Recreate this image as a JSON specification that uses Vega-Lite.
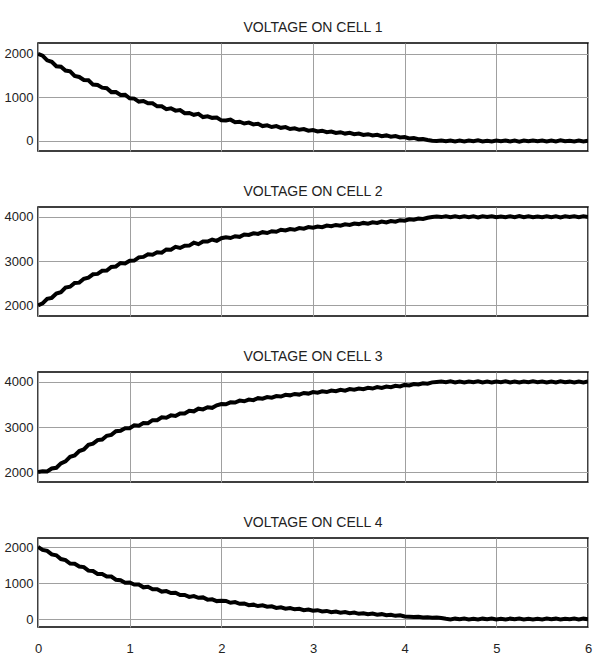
{
"$schema": "https://vega.github.io/schema/vega-lite/v6.json",
"padding": {"left": 3, "top": 20, "right": 0, "bottom": 0},
"background": "white",
"config": {
  "font": "Liberation Sans",
  "view": {"stroke": "#000", "strokeWidth": 1.5},
  "axis": {"gridColor": "#a0a0a0", "gridWidth": 1, "gridOpacity": 1, "domain": false, "ticks": false, "labelFont": "Liberation Sans", "labelFontSize": 13, "labelColor": "#222", "title": null, "format": "d"},
  "title": {"font": "Liberation Sans", "fontSize": 14, "fontWeight": "normal", "color": "#222", "offset": 8}
},
"datasets": {"v": [
{"t":0,"a":2000,"b":2000,"c":2000,"d":2000},
{"t":0.05,"a":1960,"b":2045,"c":2020,"d":1920},
{"t":0.1,"a":1852,"b":2148,"c":2015,"d":1892},
{"t":0.15,"a":1817,"b":2170,"c":2080,"d":1793},
{"t":0.2,"a":1715,"b":2267,"c":2095,"d":1770},
{"t":0.25,"a":1705,"b":2297,"c":2192,"d":1665},
{"t":0.3,"a":1617,"b":2400,"c":2238,"d":1635},
{"t":0.35,"a":1598,"b":2420,"c":2338,"d":1542},
{"t":0.4,"a":1493,"b":2505,"c":2370,"d":1533},
{"t":0.45,"a":1470,"b":2513,"c":2467,"d":1457},
{"t":0.5,"a":1400,"b":2600,"c":2502,"d":1441},
{"t":0.55,"a":1395,"b":2627,"c":2605,"d":1343},
{"t":0.6,"a":1295,"b":2702,"c":2630,"d":1332},
{"t":0.65,"a":1285,"b":2710,"c":2710,"d":1250},
{"t":0.7,"a":1225,"b":2780,"c":2723,"d":1250},
{"t":0.75,"a":1212,"b":2785,"c":2805,"d":1180},
{"t":0.8,"a":1122,"b":2868,"c":2825,"d":1178},
{"t":0.85,"a":1125,"b":2878,"c":2905,"d":1092},
{"t":0.9,"a":1058,"b":2956,"c":2917,"d":1078},
{"t":0.95,"a":1061,"b":2945,"c":2973,"d":1010},
{"t":1.0,"a":980,"b":3008,"c":2973,"d":1015},
{"t":1.05,"a":973,"b":3010,"c":3037,"d":959},
{"t":1.1,"a":905,"b":3083,"c":3027,"d":957},
{"t":1.15,"a":918,"b":3094,"c":3087,"d":880},
{"t":1.2,"a":864,"b":3154,"c":3085,"d":895},
{"t":1.25,"a":864,"b":3144,"c":3151,"d":828},
{"t":1.3,"a":796,"b":3199,"c":3150,"d":826},
{"t":1.35,"a":796,"b":3189,"c":3215,"d":761},
{"t":1.4,"a":732,"b":3262,"c":3207,"d":776},
{"t":1.45,"a":752,"b":3258,"c":3258,"d":722},
{"t":1.5,"a":697,"b":3320,"c":3243,"d":731},
{"t":1.55,"a":710,"b":3296,"c":3300,"d":665},
{"t":1.6,"a":639,"b":3346,"c":3300,"d":668},
{"t":1.65,"a":643,"b":3349,"c":3360,"d":615},
{"t":1.7,"a":601,"b":3414,"c":3348,"d":635},
{"t":1.75,"a":623,"b":3382,"c":3407,"d":589},
{"t":1.8,"a":550,"b":3439,"c":3391,"d":600},
{"t":1.85,"a":567,"b":3442,"c":3437,"d":538},
{"t":1.9,"a":531,"b":3486,"c":3425,"d":547},
{"t":1.95,"a":538,"b":3456,"c":3481,"d":497},
{"t":2.0,"a":473,"b":3516,"c":3510,"d":510},
{"t":2.05,"a":471,"b":3538,"c":3503,"d":500},
{"t":2.1,"a":490,"b":3520,"c":3547,"d":451},
{"t":2.15,"a":430,"b":3561,"c":3543,"d":469},
{"t":2.2,"a":442,"b":3547,"c":3585,"d":423},
{"t":2.25,"a":401,"b":3600,"c":3570,"d":432},
{"t":2.3,"a":422,"b":3589,"c":3607,"d":385},
{"t":2.35,"a":381,"b":3627,"c":3595,"d":399},
{"t":2.4,"a":394,"b":3613,"c":3640,"d":360},
{"t":2.45,"a":342,"b":3652,"c":3628,"d":380},
{"t":2.5,"a":360,"b":3633,"c":3663,"d":341},
{"t":2.55,"a":321,"b":3674,"c":3650,"d":352},
{"t":2.6,"a":341,"b":3662,"c":3686,"d":309},
{"t":2.65,"a":302,"b":3706,"c":3676,"d":324},
{"t":2.7,"a":318,"b":3689,"c":3714,"d":285},
{"t":2.75,"a":274,"b":3722,"c":3702,"d":304},
{"t":2.8,"a":292,"b":3706,"c":3733,"d":269},
{"t":2.85,"a":257,"b":3745,"c":3719,"d":284},
{"t":2.9,"a":274,"b":3731,"c":3755,"d":245},
{"t":2.95,"a":236,"b":3766,"c":3741,"d":261},
{"t":3.0,"a":252,"b":3752,"c":3775,"d":228},
{"t":3.05,"a":219,"b":3781,"c":3759,"d":245},
{"t":3.1,"a":236,"b":3766,"c":3790,"d":212},
{"t":3.15,"a":203,"b":3801,"c":3775,"d":225},
{"t":3.2,"a":217,"b":3785,"c":3809,"d":191},
{"t":3.25,"a":184,"b":3815,"c":3795,"d":207},
{"t":3.3,"a":202,"b":3797,"c":3823,"d":177},
{"t":3.35,"a":170,"b":3829,"c":3807,"d":195},
{"t":3.4,"a":186,"b":3815,"c":3841,"d":163},
{"t":3.45,"a":155,"b":3848,"c":3826,"d":178},
{"t":3.5,"a":170,"b":3834,"c":3854,"d":144},
{"t":3.55,"a":139,"b":3861,"c":3837,"d":161},
{"t":3.6,"a":156,"b":3844,"c":3868,"d":132},
{"t":3.65,"a":126,"b":3873,"c":3853,"d":151},
{"t":3.7,"a":142,"b":3860,"c":3884,"d":120},
{"t":3.75,"a":111,"b":3891,"c":3867,"d":135},
{"t":3.8,"a":128,"b":3872,"c":3896,"d":104},
{"t":3.85,"a":98,"b":3903,"c":3881,"d":119},
{"t":3.9,"a":112,"b":3890,"c":3912,"d":88},
{"t":3.95,"a":80,"b":3922,"c":3900,"d":102},
{"t":4.0,"a":90,"b":3910,"c":3934,"d":70},
{"t":4.05,"a":60,"b":3942,"c":3922,"d":62},
{"t":4.1,"a":70,"b":3932,"c":3952,"d":55},
{"t":4.15,"a":42,"b":3960,"c":3942,"d":60},
{"t":4.2,"a":48,"b":3952,"c":3970,"d":42},
{"t":4.25,"a":24,"b":3978,"c":3962,"d":50},
{"t":4.3,"a":6,"b":3995,"c":3990,"d":35},
{"t":4.35,"a":0,"b":4005,"c":4000,"d":42},
{"t":4.4,"a":10,"b":3992,"c":4010,"d":28},
{"t":4.45,"a":-8,"b":4008,"c":3994,"d":5},
{"t":4.5,"a":12,"b":3988,"c":4012,"d":-12},
{"t":4.55,"a":-10,"b":4010,"c":3990,"d":10},
{"t":4.6,"a":8,"b":3992,"c":4008,"d":-8},
{"t":4.65,"a":-12,"b":4012,"c":3988,"d":12},
{"t":4.7,"a":10,"b":3990,"c":4010,"d":-10},
{"t":4.75,"a":-8,"b":4008,"c":3992,"d":8},
{"t":4.8,"a":14,"b":3986,"c":4014,"d":-14},
{"t":4.85,"a":-10,"b":4010,"c":3990,"d":10},
{"t":4.9,"a":6,"b":3994,"c":4006,"d":-6},
{"t":4.95,"a":-12,"b":4012,"c":3988,"d":12},
{"t":5.0,"a":10,"b":3990,"c":4010,"d":-10},
{"t":5.05,"a":-6,"b":4006,"c":3994,"d":6},
{"t":5.1,"a":12,"b":3988,"c":4012,"d":-12},
{"t":5.15,"a":-10,"b":4010,"c":3990,"d":10},
{"t":5.2,"a":8,"b":3992,"c":4008,"d":-8},
{"t":5.25,"a":-14,"b":4014,"c":3986,"d":14},
{"t":5.3,"a":10,"b":3990,"c":4010,"d":-10},
{"t":5.35,"a":-8,"b":4008,"c":3992,"d":8},
{"t":5.4,"a":12,"b":3988,"c":4012,"d":-12},
{"t":5.45,"a":-6,"b":4006,"c":3994,"d":6},
{"t":5.5,"a":10,"b":3990,"c":4010,"d":-10},
{"t":5.55,"a":-12,"b":4012,"c":3988,"d":12},
{"t":5.6,"a":8,"b":3992,"c":4008,"d":-8},
{"t":5.65,"a":-10,"b":4010,"c":3990,"d":10},
{"t":5.7,"a":14,"b":3986,"c":4014,"d":-14},
{"t":5.75,"a":-8,"b":4008,"c":3992,"d":8},
{"t":5.8,"a":6,"b":3994,"c":4006,"d":-6},
{"t":5.85,"a":-12,"b":4012,"c":3988,"d":12},
{"t":5.9,"a":10,"b":3990,"c":4010,"d":-10},
{"t":5.95,"a":-10,"b":4010,"c":3990,"d":10},
{"t":6.0,"a":8,"b":3992,"c":4008,"d":-8}
]},
"data": {"name": "v"},
"bounds": "flush",
"spacing": 56,
"vconcat": [
 {"title": "VOLTAGE ON CELL 1", "width": 550, "height": 108,
  "mark": {"type": "line", "color": "#000", "strokeWidth": 4, "clip": true},
  "encoding": {
   "x": {"field": "t", "type": "quantitative", "scale": {"domain": [0, 6], "nice": false}, "axis": {"labels": false, "values": [0,1,2,3,4,5,6]}},
   "y": {"field": "a", "type": "quantitative", "scale": {"domain": [-230, 2250], "nice": false, "zero": false}, "axis": {"values": [0,1000,2000], "labelPadding": 5}}
  }},
 {"title": "VOLTAGE ON CELL 2", "width": 550, "height": 109,
  "mark": {"type": "line", "color": "#000", "strokeWidth": 4, "clip": true},
  "encoding": {
   "x": {"field": "t", "type": "quantitative", "scale": {"domain": [0, 6], "nice": false}, "axis": {"labels": false, "values": [0,1,2,3,4,5,6]}},
   "y": {"field": "b", "type": "quantitative", "scale": {"domain": [1760, 4220], "nice": false, "zero": false}, "axis": {"values": [2000,3000,4000], "labelPadding": 5}}
  }},
 {"title": "VOLTAGE ON CELL 3", "width": 550, "height": 110,
  "mark": {"type": "line", "color": "#000", "strokeWidth": 4, "clip": true},
  "encoding": {
   "x": {"field": "t", "type": "quantitative", "scale": {"domain": [0, 6], "nice": false}, "axis": {"labels": false, "values": [0,1,2,3,4,5,6]}},
   "y": {"field": "c", "type": "quantitative", "scale": {"domain": [1780, 4220], "nice": false, "zero": false}, "axis": {"values": [2000,3000,4000], "labelPadding": 5}}
  }},
 {"title": "VOLTAGE ON CELL 4", "width": 550, "height": 89,
  "mark": {"type": "line", "color": "#000", "strokeWidth": 4, "clip": true},
  "encoding": {
   "x": {"field": "t", "type": "quantitative", "scale": {"domain": [0, 6], "nice": false}, "axis": {"values": [0,1,2,3,4,5,6], "labelPadding": 15, "labelFlush": false, "labelOverlap": false}},
   "y": {"field": "d", "type": "quantitative", "scale": {"domain": [-222, 2250], "nice": false, "zero": false}, "axis": {"values": [0,1000,2000], "labelPadding": 5}}
  }}
]
}
